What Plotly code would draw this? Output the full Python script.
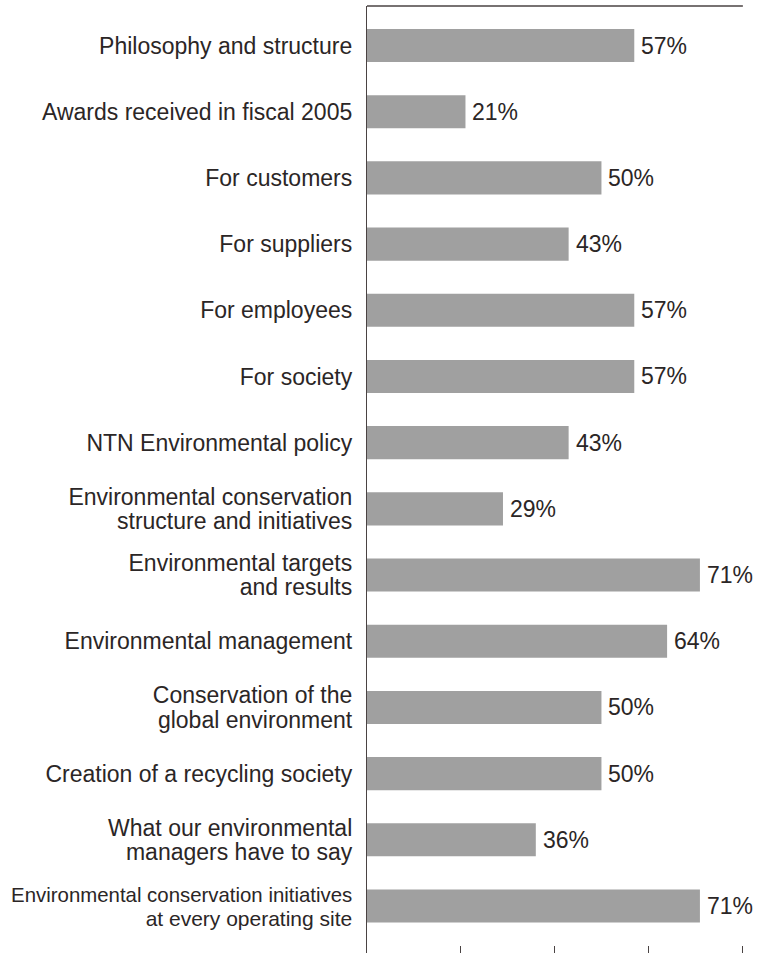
import plotly.graph_objects as go

categories = [
    "Philosophy and structure",
    "Awards received in fiscal 2005",
    "For customers",
    "For suppliers",
    "For employees",
    "For society",
    "NTN Environmental policy",
    "Environmental conservation<br>structure and initiatives",
    "Environmental targets<br>and results",
    "Environmental management",
    "Conservation of the<br>global environment",
    "Creation of a recycling society",
    "What our environmental<br>managers have to say",
    "Environmental conservation initiatives<br>at every operating site",
]
values = [57, 21, 50, 43, 57, 57, 43, 29, 71, 64, 50, 50, 36, 71]
x_ticks = [0, 20, 40, 60, 80]

FONT = "Liberation Sans, Arial, sans-serif"
TEXT_COLOR = "#2b2626"
LINE_COLOR = "#4a4343"
FONT_SIZE = 23

positions = list(range(len(categories)))

# per-line tick labels so that line spacing can be controlled
tickvals, ticktext = [], []
LINE_OFFSET = 0.182
for pos, cat in zip(positions, categories):
    lines = cat.split("<br>")
    n = len(lines)
    for k, line in enumerate(lines):
        tickvals.append(pos + (k - (n - 1) / 2) * 2 * LINE_OFFSET)
        # the longest label is set slightly smaller so it fits the margin
        if len(line) > 32:
            line = f"<span style='font-size:20.4px'>{line}</span>"
        elif pos == positions[-1]:
            line = f"<span style='font-size:21px'>{line}</span>"
        ticktext.append(line)

fig = go.Figure()
fig.add_trace(go.Bar(
    x=values,
    y=positions,
    orientation="h",
    marker=dict(color="#a0a0a0", line=dict(width=0)),
    width=0.5,
    hoverinfo="skip",
))

for v, p in zip(values, positions):
    fig.add_annotation(
        x=v, y=p, text=f"{v}%", showarrow=False,
        xanchor="left", yanchor="middle", xshift=5,
        font=dict(family=FONT, size=FONT_SIZE, color=TEXT_COLOR),
    )

fig.update_layout(
    width=766,
    height=953,
    margin=dict(l=367, r=22, t=6, b=0),
    paper_bgcolor="white",
    plot_bgcolor="white",
    showlegend=False,
    bargap=0.5,
    font=dict(family=FONT, size=FONT_SIZE, color=TEXT_COLOR),
    shapes=[dict(type="line", xref="paper", yref="paper", x0=0, x1=0.997, y0=1, y1=1,
                 line=dict(color=LINE_COLOR, width=1.3))],
)

fig.update_xaxes(
    range=[0, 80.4],
    tickvals=x_ticks,
    showticklabels=False,
    ticks="inside",
    ticklen=7,
    tickwidth=1.2,
    tickcolor=LINE_COLOR,
    showline=False,
    showgrid=False,
    zeroline=False,
    fixedrange=True,
    automargin=False,
)
fig.update_yaxes(
    range=[13.71, -0.597],
    tickvals=tickvals,
    ticktext=ticktext,
    ticks="",
    ticklabelstandoff=9,
    tickfont=dict(family=FONT, size=FONT_SIZE, color=TEXT_COLOR),
    showline=True,
    linecolor=LINE_COLOR,
    linewidth=1.3,
    showgrid=False,
    zeroline=False,
    fixedrange=True,
    automargin=False,
)

fig.write_html(
    "out.html",
    config={"displayModeBar": False},
    post_script="document.body.style.margin='0';document.body.style.padding='0';",
)
